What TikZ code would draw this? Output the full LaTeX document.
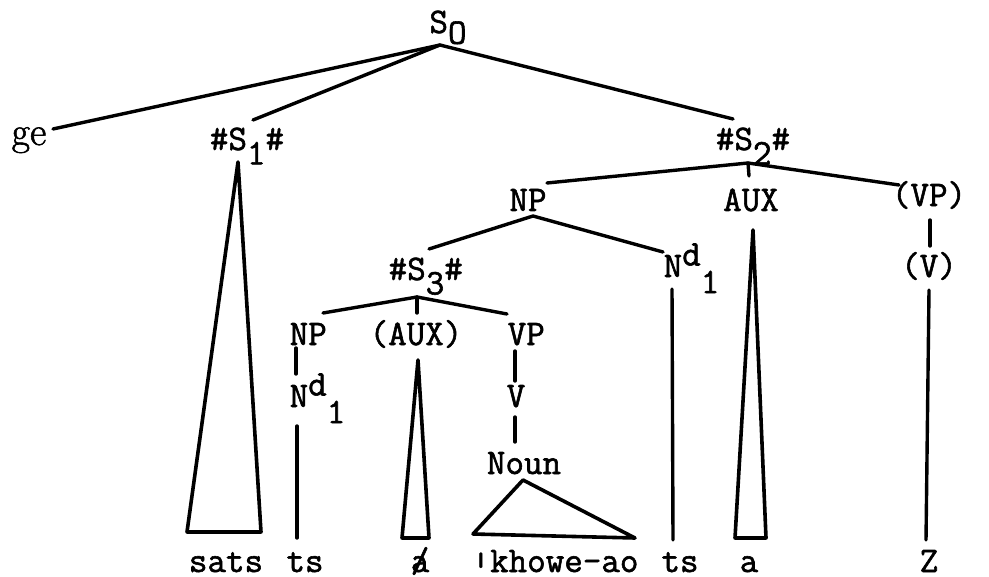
\documentclass[tikz,border=0pt]{standalone}
\usepackage{fontspec}
\setmonofont[FakeBold=1.6]{Latin Modern Mono}
\newfontfamily\romanface[FakeBold=1.4]{Latin Modern Roman}
\usepackage{graphicx}
% typewriter-style lowered / raised characters
\newcommand\lowr[2][0.4em]{\raisebox{-#1}{#2}}
\newcommand\highr[2][0.32em]{\raisebox{#1}{#2}}
\begin{document}
\begin{tikzpicture}[x=0.5pt,y=-0.5pt,line width=1.7pt,line cap=round,line join=round,
  lab/.style={font=\ttfamily\fontsize{18}{20}\selectfont,inner sep=0pt,anchor=base},
  labw/.style={lab,anchor=base west},
  roof/.style={draw,line width=1.8pt}]
\useasboundingbox (0,0) rectangle (989,577);

% ---- labels ----
\node[lab]  (s0)   at (448,33)  {S\lowr[0.3em]{O}};
\node[lab,font=\romanface\fontsize{20}{22}\selectfont] (ge) at (29,145) {ge};
\node[lab]  (s1)   at (247,150) {\#S\lowr{1}\#};
\node[lab]  (s2)   at (753,150) {\#S\lowr{2}\#};
\node[lab]  (np)   at (528,211) {NP};
\node[lab]  (aux)  at (751,211) {AUX};
\node[lab]  (vp)   at (929,206) {(VP)};
\node[lab]  (v)    at (929,277) {(V)};
\node[labw] (nd)   at (662,277) {N\highr{d}\lowr[0.45em]{1}};
\node[labw] (s3)   at (387,280) {\#S\lowr{3}\#};
\node[labw] (np3)  at (288,345) {NP};
\node[lab]  (aux3) at (416,345) {(AUX)};
\node[labw] (vp3)  at (506,345) {VP};
\node[labw] (nd3)  at (288,407) {N\highr{d}\lowr[0.45em]{1}};
\node[lab]  (v3)   at (516,407) {V};
\node[lab]  (noun) at (524,474) {Noun};

\node[lab] (w1) at (226,572) {sats};
\node[lab] (w2) at (305,572) {ts};
\node[lab] (w3) at (420,572) {\rlap{/}a};
\node[lab] (w4) at (555,572) {\raisebox{0.16em}{\scalebox{1}[0.55]{|}}khowe-ao};
\node[lab] (w5) at (680,572) {ts};
\node[lab] (w6) at (749,572) {a};
\node[lab] (w7) at (929,572) {Z};

% ---- attachment points ----
\coordinate (s0-f)  at (440,45);
\coordinate (ge-h)  at (53,129);
\coordinate (s1-h)  at (253,120);
\coordinate (s2-h)  at (733,119);
\coordinate (s2-f)  at (748,163);
\coordinate (np-h)  at (547,183);
\coordinate (aux-h) at (749,176);
\coordinate (vp-h)  at (899,185);
\coordinate (np-f)  at (533,216);
\coordinate (s3-h)  at (429,249);
\coordinate (nd-h)  at (663,252);
\coordinate (nd-f)  at (672,289);
\coordinate (vp-f)  at (930,220);
\coordinate (v-h)   at (930,246);
\coordinate (v-f)   at (929,290);
\coordinate (s3-f)  at (417,297);
\coordinate (np3-h) at (323,313);
\coordinate (aux3-h) at (417,313);
\coordinate (vp3-h) at (507,314);
\coordinate (np3-f) at (296,348);
\coordinate (nd3-h) at (296,374);
\coordinate (nd3-f) at (297,426);
\coordinate (vp3-f) at (515,351);
\coordinate (v3-h)  at (515,381);
\coordinate (v3-f)  at (515,417);
\coordinate (noun-h) at (515,442);
\coordinate (w2-h)  at (297,538);
\coordinate (w5-h)  at (673,540);
\coordinate (w7-h)  at (926,540);

% ---- branches ----
\draw (s0-f) -- (ge-h);
\draw (s0-f) -- (s1-h);
\draw (s0-f) -- (s2-h);
\draw (s2-f) -- (np-h);
\draw (s2-f) -- (aux-h);
\draw (s2-f) -- (vp-h);
\draw (np-f) -- (s3-h);
\draw (np-f) -- (nd-h);
\draw (nd-f) -- (w5-h);
\draw (vp-f) -- (v-h);
\draw (v-f) -- (w7-h);
\draw (s3-f) -- (np3-h);
\draw (s3-f) -- (aux3-h);
\draw (s3-f) -- (vp3-h);
\draw (np3-f) -- (nd3-h);
\draw (nd3-f) -- (w2-h);
\draw (vp3-f) -- (v3-h);
\draw (v3-f) -- (noun-h);

% ---- abbreviated subtrees ----
\draw[roof] (238,162) -- (187,532) -- (261,532) -- cycle;
\draw[roof] (753,230) -- (735,538) -- (766,538) -- cycle;
\draw[roof] (418,360) -- (402,538) -- (429,538) -- cycle;
\draw[roof] (523,480) -- (473,534) -- (635,538) -- cycle;
\end{tikzpicture}
\end{document}
